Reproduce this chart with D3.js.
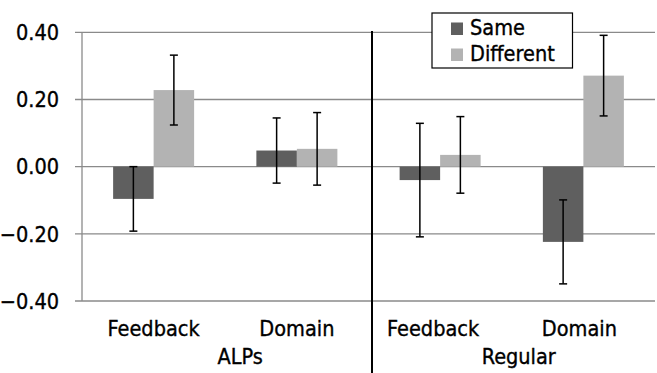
<!DOCTYPE html>
<html>
<head>
<meta charset="utf-8">
<script src="https://cdn.jsdelivr.net/npm/d3@7"></script>
<style>
	body { margin: 0; background: #fff; }
	svg { display: block; font-family: "DejaVu Sans Condensed", "DejaVu Sans", sans-serif; font-stretch: condensed; }
	svg text { fill: #000; stroke: #000; stroke-width: 0.35px; }
</style>
</head>
<body>
<svg id="chart"></svg>
<script>
// chart values
var categories = ["Feedback", "Domain", "Feedback", "Domain"];
var groups = ["ALPs", "Regular"];
var series = ["Same", "Different"];
var sameVals = [-0.096, 0.048, -0.040, -0.224];
var sameErr = [0.096, 0.097, 0.169, 0.125];
var diffVals = [0.228, 0.053, 0.035, 0.271];
var diffErr = [0.104, 0.108, 0.114, 0.120];
var yTicks = [-0.4, -0.2, 0, 0.2, 0.4];

var width = 657, height = 373;
var colors = { Same: "#5f5f5f", Different: "#b3b3b3" };

var svg = d3.select("#chart")
	.attr("width", width)
	.attr("height", height);

var y = d3.scaleLinear().domain([-0.4, 0.4]).range([301, 32.3]);
var x0 = d3.scaleBand().domain(d3.range(categories.length)).range([82, 655]);
var x1 = d3.scaleBand().domain(series).range([0, 81]);

// gridlines + ticks
svg.append("g")
	.selectAll("line")
	.data(yTicks)
	.enter().append("line")
	.attr("x1", 75)
	.attr("x2", 655)
	.attr("y1", function (d) { return y(d); })
	.attr("y2", function (d) { return y(d); })
	.style("stroke", "#8a8a8a")
	.style("stroke-width", 1.3);

svg.append("line")
	.attr("x1", 82).attr("x2", 82)
	.attr("y1", y(0.4)).attr("y2", y(-0.4))
	.style("stroke", "#8a8a8a")
	.style("stroke-width", 1.3);

svg.append("g")
	.selectAll("text")
	.data(yTicks)
	.enter().append("text")
	.attr("x", 59)
	.attr("y", function (d) { return y(d); })
	.attr("dy", "0.36em")
	.style("text-anchor", "end")
	.style("font-size", "21.5px")
	.text(function (d) { return d3.format(".2f")(d); });

// bars
var rows = [];
categories.forEach(function (c, i) {
	rows.push({ i: i, s: "Same", v: sameVals[i], e: sameErr[i] });
	rows.push({ i: i, s: "Different", v: diffVals[i], e: diffErr[i] });
});

function barX(d) { return x0(d.i) + x0.bandwidth() / 2 - 40.5 + x1(d.s); }

svg.append("g")
	.selectAll("rect")
	.data(rows)
	.enter().append("rect")
	.attr("x", barX)
	.attr("width", x1.bandwidth())
	.attr("y", function (d) { return y(Math.max(0, d.v)); })
	.attr("height", function (d) { return Math.abs(y(d.v) - y(0)); })
	.style("fill", function (d) { return colors[d.s]; });

// error bars
var err = svg.append("g")
	.selectAll("g")
	.data(rows)
	.enter().append("g")
	.style("stroke", "#000")
	.style("stroke-width", 1.5);

err.append("line")
	.attr("x1", function (d) { return barX(d) + x1.bandwidth() / 2; })
	.attr("x2", function (d) { return barX(d) + x1.bandwidth() / 2; })
	.attr("y1", function (d) { return y(d.v + d.e); })
	.attr("y2", function (d) { return y(d.v - d.e); });

[1, -1].forEach(function (sign) {
	err.append("line")
		.attr("x1", function (d) { return barX(d) + x1.bandwidth() / 2 - 4; })
		.attr("x2", function (d) { return barX(d) + x1.bandwidth() / 2 + 4; })
		.attr("y1", function (d) { return y(d.v + sign * d.e); })
		.attr("y2", function (d) { return y(d.v + sign * d.e); });
});

// separator between groups
var sepX = x0(2) + 3.5;
svg.append("line")
	.attr("x1", sepX).attr("x2", sepX)
	.attr("y1", 31).attr("y2", height)
	.style("stroke", "#000")
	.style("stroke-width", 2);

// category labels (the Regular ones sit a bit left in the original)
var labelShift = [0, 0, -7, -4];
svg.append("g")
	.selectAll("text")
	.data(categories)
	.enter().append("text")
	.attr("x", function (d, i) { return x0(i) + x0.bandwidth() / 2 + labelShift[i]; })
	.attr("y", 336)
	.style("text-anchor", "middle")
	.style("font-size", "21.5px")
	.text(function (d) { return d; });

var groupOffset = [15, 7];
svg.append("g")
	.selectAll("text")
	.data(groups)
	.enter().append("text")
	.attr("x", function (d, i) { return x0(i * 2) + x0.bandwidth() + groupOffset[i]; })
	.attr("y", 364)
	.style("text-anchor", "middle")
	.style("font-size", "21.5px")
	.text(function (d) { return d; });

// legend
var legend = svg.append("g").attr("transform", "translate(432,13)");
legend.append("rect")
	.attr("width", 140.5)
	.attr("height", 55)
	.style("fill", "#fff")
	.style("stroke", "#000")
	.style("stroke-width", 1.2);

var item = legend.selectAll(".item")
	.data(series)
	.enter().append("g")
	.attr("class", "item")
	.attr("transform", function (d, i) { return "translate(19," + (9.5 + i * 26) + ")"; });

item.append("rect")
	.attr("width", 12)
	.attr("height", 12.5)
	.style("fill", function (d) { return colors[d]; });

item.append("text")
	.attr("x", 19)
	.attr("y", 12.5)
	.style("font-size", "21.5px")
	.text(function (d) { return d; });
</script>
</body>
</html>
